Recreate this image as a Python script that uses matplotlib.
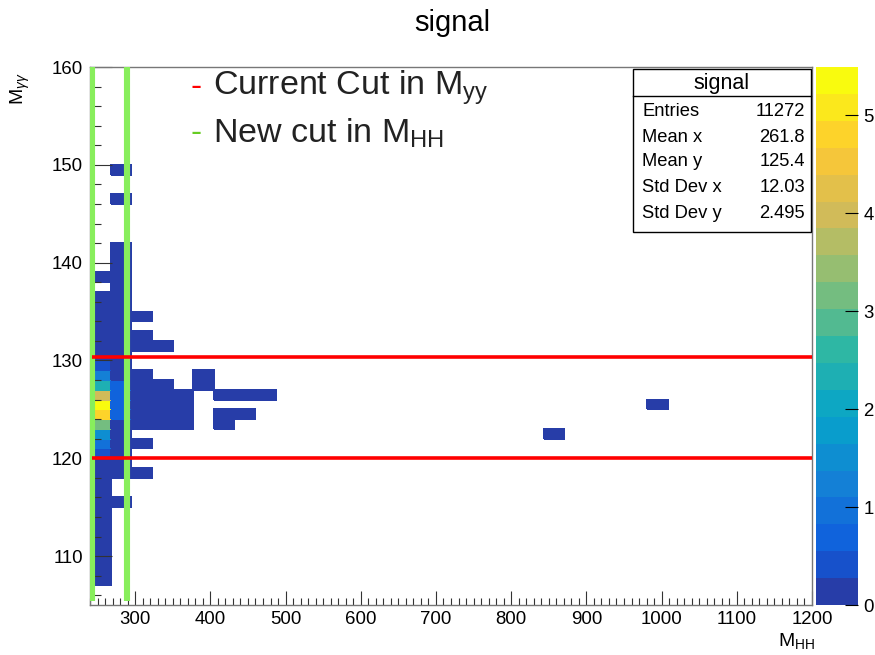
import numpy as np
import matplotlib
matplotlib.use("Agg")
import matplotlib.pyplot as plt
from matplotlib.colors import LinearSegmentedColormap, ListedColormap, BoundaryNorm
from matplotlib.ticker import MultipleLocator
from matplotlib.patches import Rectangle
from matplotlib.lines import Line2D
import matplotlib.colorbar as mcolorbar

plt.rcParams['font.family'] = ['Liberation Sans', 'DejaVu Sans']
plt.rcParams['mathtext.fontset'] = 'custom'
plt.rcParams['mathtext.rm'] = 'Liberation Sans'
plt.rcParams['mathtext.it'] = 'Liberation Sans:italic'
plt.rcParams['mathtext.bf'] = 'Liberation Sans:bold'

# ---------------- data ----------------
title = "signal"
x_min, x_max, n_xbins = 240, 1200, 35
y_min, y_max, n_ybins = 105, 160, 55

# column 0 (first M_HH bin): lower y edge of each filled cell and its content
bin0_ylow = [107, 108, 109, 110, 111, 112, 113, 114, 115, 116, 117, 118, 119,
             120, 121, 122, 123, 124, 125, 126, 127, 128, 129,
             130, 131, 132, 133, 134, 135, 136, 138]
bin0_val = [0.08, 0.10, 0.10, 0.12, 0.12, 0.14, 0.15, 0.17, 0.18, 0.20, 0.22, 0.24, 0.26,
            0.45, 0.95, 1.50, 3.15, 4.80, 5.49, 4.00, 2.35, 1.25, 0.45,
            0.26, 0.22, 0.20, 0.16, 0.14, 0.12, 0.10, 0.05]

# column 1
bin1_ylow = [115, 118, 119, 120, 121, 122, 123, 124, 125, 126, 127, 128, 129,
             130, 131, 132, 133, 134, 135, 136, 137, 138, 139, 140, 141, 146, 149]
bin1_val = [0.05, 0.10, 0.12, 0.15, 0.18, 0.20, 0.25, 0.65, 0.65, 0.65, 0.65, 0.25, 0.22,
            0.20, 0.18, 0.16, 0.14, 0.12, 0.10, 0.09, 0.08, 0.07, 0.06, 0.05, 0.05, 0.04, 0.04]

# remaining sparse cells: x-bin index, lower y edge, content
other_xbin = [2, 2, 2, 2, 2, 2, 2, 2, 2, 2, 2,
              3, 3, 3, 3, 3, 3,
              4, 4, 4, 4,
              5, 5,
              6, 6, 6,
              7, 7,
              8,
              22, 27]
other_ylow = [118, 121, 123, 124, 125, 126, 127, 128, 131, 132, 134,
              123, 124, 125, 126, 127, 131,
              123, 124, 125, 126,
              127, 128,
              123, 124, 126,
              124, 126,
              126,
              122, 125]
other_val = [0.05, 0.06, 0.12, 0.15, 0.18, 0.15, 0.10, 0.06, 0.05, 0.05, 0.04,
             0.08, 0.10, 0.12, 0.10, 0.06, 0.04,
             0.06, 0.08, 0.08, 0.06,
             0.04, 0.04,
             0.04, 0.05, 0.05,
             0.04, 0.04,
             0.04,
             0.03, 0.03]

# cut lines
mhh_cuts = [243.3, 289.6]
myy_cuts = [120.0, 130.4]

# stats box
stat_names = ["Entries", "Mean x", "Mean y", "Std Dev x", "Std Dev y"]
stat_values = ["11272", "261.8", "125.4", "12.03", "2.495"]

legend_labels = [r"Current Cut in M$_{\rm yy}$", r"New cut in M$_{\rm HH}$"]

x_ticks = [300, 400, 500, 600, 700, 800, 900, 1000, 1100, 1200]
y_ticks = [110, 120, 130, 140, 150, 160]
z_ticks = [0, 1, 2, 3, 4, 5]
n_contours = 20

# ---------------- build histogram ----------------
x_edges = np.linspace(x_min, x_max, n_xbins + 1)
y_edges = np.linspace(y_min, y_max, n_ybins + 1)
H = np.zeros((n_ybins, n_xbins))
for xb, yl, v in list(zip([0] * len(bin0_ylow), bin0_ylow, bin0_val)) + \
        list(zip([1] * len(bin1_ylow), bin1_ylow, bin1_val)) + \
        list(zip(other_xbin, other_ylow, other_val)):
    H[int(yl - y_min), xb] = v
Hm = np.ma.masked_where(H <= 0, H)
zmax = H.max()

# ROOT kBird palette, 255 colours, 20 contour bands
stops = [0.0, 0.125, 0.25, 0.375, 0.5, 0.625, 0.75, 0.875, 1.0]
red = [0.2082, 0.0592, 0.0780, 0.0232, 0.1802, 0.5301, 0.8186, 0.9956, 0.9764]
green = [0.1664, 0.3599, 0.5041, 0.6419, 0.7178, 0.7492, 0.7328, 0.7862, 0.9832]
blue = [0.5293, 0.8684, 0.8385, 0.7914, 0.6425, 0.4662, 0.3499, 0.1968, 0.0539]
bird = LinearSegmentedColormap.from_list(
    "bird", [(s, (r, g, b)) for s, r, g, b in zip(stops, red, green, blue)], N=255)
pal = bird(np.linspace(0, 1, 255))
band_cols = [pal[min(254, int((i + 0.99) * 255 / n_contours))] for i in range(n_contours)]
cmap = ListedColormap(band_cols)
levels = np.linspace(0, zmax, n_contours + 1)
norm = BoundaryNorm(levels, cmap.N)

# ---------------- figure ----------------
W, Hpx = 875, 655
fig = plt.figure(figsize=(W / 100, Hpx / 100), dpi=100)
L, R, T, B = 90, 812, 67, 605
ax = fig.add_axes([L / W, 1 - B / Hpx, (R - L) / W, (B - T) / Hpx])
ax.pcolormesh(x_edges, y_edges, Hm, cmap=cmap, norm=norm, edgecolors='face', linewidth=0.3)
ax.set_xlim(x_min, x_max)
ax.set_ylim(y_min, y_max)

for xc in mhh_cuts:
    ax.add_line(Line2D([xc, xc], [105.4, y_max], color='#88ee5c', lw=4.4, zorder=5,
                       solid_capstyle='butt'))
for yc in myy_cuts:
    ax.add_line(Line2D([242.7, x_max], [yc, yc], color='#ff0000', lw=2.6, zorder=6,
                       solid_capstyle='butt'))

ax.set_xticks(x_ticks)
ax.set_yticks(y_ticks)
ax.xaxis.set_minor_locator(MultipleLocator(10))
ax.yaxis.set_minor_locator(MultipleLocator(2))
ax.tick_params(axis='x', which='major', direction='in', length=10, width=0.8,
               labelsize=13.4, pad=4, color='#333333')
ax.tick_params(axis='x', which='minor', direction='in', length=5, width=0.8, color='#333333')
ax.tick_params(axis='y', which='major', direction='in', length=15.5, width=0.8,
               labelsize=13.4, pad=5, color='#333333')
ax.tick_params(axis='y', which='minor', direction='in', length=7.8, width=0.8, color='#333333')
for s in ax.spines.values():
    s.set_color('#777777')
    s.set_linewidth(1.0)

# axis titles
fig.text(815 / W, 1 - 641 / Hpx, r"M$_{\rm HH}$", ha='right', va='center', fontsize=14)
fig.text(20 / W, 1 - 72 / Hpx, r"M$_{\gamma\gamma}$", ha='center', va='top', rotation=90,
         fontsize=14)

# title
fig.text(452 / W, 1 - 23 / Hpx, title, ha='center', va='center', fontsize=21)

# colour bar
cax = fig.add_axes([816 / W, 1 - B / Hpx, 42 / W, (B - T) / Hpx])
cb = mcolorbar.ColorbarBase(cax, cmap=cmap, norm=norm, boundaries=levels,
                            ticks=z_ticks, orientation='vertical', drawedges=False)
cb.outline.set_visible(False)
cax.tick_params(axis='y', which='both', direction='in', length=9.5, width=0.8,
                labelsize=13.4, pad=4, color='black')
cax.minorticks_off()
cax.set_yticklabels([str(t) for t in z_ticks])

# stats box
bx0, bx1, by0, by1 = 633, 811, 69, 232
fig.patches.append(Rectangle((bx0 / W, 1 - by1 / Hpx), (bx1 - bx0) / W, (by1 - by0) / Hpx,
                             transform=fig.transFigure, fill=True, facecolor='white',
                             edgecolor='black', lw=1.0, zorder=10))
fig.lines.append(Line2D([bx0 / W, bx1 / W], [1 - 96 / Hpx, 1 - 96 / Hpx],
                        transform=fig.transFigure, color='black', lw=1.0, zorder=11))
fig.text((bx0 + bx1) / 2 / W, 1 - 83 / Hpx, title, ha='center', va='center',
         fontsize=15.5, zorder=12)
row_y = [111, 137, 162, 188, 213]
for name, val, ry in zip(stat_names, stat_values, row_y):
    fig.text(642 / W, 1 - ry / Hpx, name, ha='left', va='center', fontsize=13.2, zorder=12)
    fig.text(805 / W, 1 - ry / Hpx, val, ha='right', va='center', fontsize=13.2, zorder=12)

# legend text
leg_y = [88, 133]
leg_cols = ['#ff0000', '#66cc22']
for lab, ly, lc in zip(legend_labels, leg_y, leg_cols):
    fig.text(191 / W, 1 - ly / Hpx, "-", ha='left', va='center', fontsize=24, color=lc)
    fig.text(213 / W, 1 - ly / Hpx, lab, ha='left', va='center', fontsize=24.5, color='#222222')

fig.savefig("out.png", dpi=100)
